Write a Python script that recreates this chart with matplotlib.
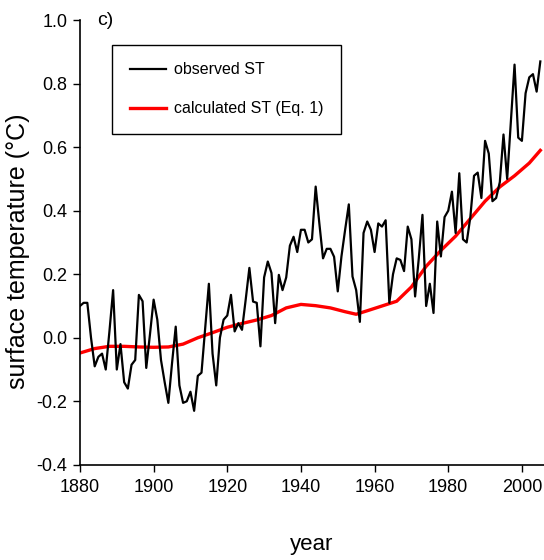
import matplotlib
matplotlib.use("Agg")
import matplotlib.pyplot as plt

# observed surface temperature, one value per year from 1880
obs_start = 1880
observed = [
    0.10, 0.11, 0.11, 0.00, -0.09, -0.06, -0.05, -0.10, 0.02, 0.15,   # 1880s
    -0.10, -0.02, -0.14, -0.16, -0.085, -0.07, 0.135, 0.115, -0.095, 0.01,  # 1890s
    0.12, 0.057, -0.07, -0.14, -0.205, -0.08, 0.035, -0.15, -0.205, -0.20,  # 1900s
    -0.17, -0.23, -0.12, -0.11, 0.03, 0.17, -0.05, -0.15, 0.00, 0.057,  # 1910s
    0.07, 0.135, 0.02, 0.046, 0.025, 0.12, 0.22, 0.114, 0.11, -0.027,  # 1920s
    0.19, 0.24, 0.204, 0.046, 0.198, 0.15, 0.19, 0.29, 0.318, 0.27,  # 1930s
    0.34, 0.34, 0.30, 0.31, 0.476, 0.36, 0.25, 0.28, 0.28, 0.255,  # 1940s
    0.146, 0.256, 0.34, 0.42, 0.193, 0.15, 0.05, 0.33, 0.366, 0.34,  # 1950s
    0.27, 0.36, 0.35, 0.37, 0.11, 0.20, 0.25, 0.245, 0.21, 0.35,  # 1960s
    0.31, 0.13, 0.25, 0.387, 0.10, 0.17, 0.078, 0.366, 0.256, 0.38,  # 1970s
    0.40, 0.46, 0.33, 0.518, 0.31, 0.30, 0.38, 0.51, 0.52, 0.44,  # 1980s
    0.62, 0.58, 0.43, 0.44, 0.49, 0.64, 0.50, 0.68, 0.86, 0.63,  # 1990s
    0.62, 0.77, 0.82, 0.83, 0.775, 0.87,  # 2000s
]
obs_years = list(range(obs_start, obs_start + len(observed)))

# calculated surface temperature (Eq. 1)
calc_years = [1880, 1884, 1888, 1892, 1896, 1900, 1904, 1908, 1912, 1916,
              1920, 1924, 1928, 1932, 1936, 1940, 1944, 1948, 1952, 1955,
              1958, 1962, 1966, 1970, 1974, 1978, 1982, 1986, 1990, 1994,
              1998, 2002, 2005]
calculated = [-0.048, -0.034, -0.027, -0.027, -0.029, -0.030, -0.029, -0.020, 0.000, 0.016,
              0.033, 0.045, 0.056, 0.070, 0.094, 0.105, 0.101, 0.094, 0.082, 0.074,
              0.085, 0.100, 0.115, 0.160, 0.225, 0.275, 0.320, 0.375, 0.430, 0.475,
              0.510, 0.550, 0.590]

x_ticks = [1880, 1900, 1920, 1940, 1960, 1980, 2000]
y_ticks = [-0.4, -0.2, 0.0, 0.2, 0.4, 0.6, 0.8, 1.0]

plt.rcParams["font.family"] = ["Liberation Sans", "DejaVu Sans"]

fig = plt.figure(figsize=(5.44, 5.6), dpi=100)
ax = fig.add_axes([0.147, 0.170, 0.853, 0.794])

ax.plot(obs_years, observed, color="black", lw=1.6, label="observed ST", zorder=3)
ax.plot(calc_years, calculated, color="red", lw=2.4, label="calculated ST (Eq. 1)", zorder=2)

ax.set_xlim(1880, 2006)
ax.set_ylim(-0.4, 1.0)
ax.set_xticks(x_ticks)
ax.set_yticks(y_ticks)
ax.set_yticklabels([f"{v:.1f}" for v in y_ticks])
ax.tick_params(direction="out", length=5, width=1, pad=4, labelsize=13)
ax.tick_params(axis="x", pad=5)

ax.spines["top"].set_visible(False)
ax.spines["right"].set_visible(False)
ax.spines["left"].set_linewidth(1.2)
ax.spines["bottom"].set_linewidth(1.2)

ax.set_xlabel("year", fontsize=16)
ax.xaxis.set_label_coords(0.5, -0.155)
ax.set_ylabel("surface temperature (\u00b0C)", fontsize=18)
ax.yaxis.set_label_coords(-0.108, 0.48)

fig.text(0.178, 0.964, "c)", fontsize=14, va="center")

leg = ax.legend(loc="upper left", bbox_to_anchor=(0.206, 0.92), bbox_transform=fig.transFigure,
                frameon=True, fancybox=False, edgecolor="black", framealpha=1,
                prop={"size": 11.5}, handlelength=2.3, handletextpad=0.5,
                borderpad=1.1, labelspacing=1.5, borderaxespad=0)
leg.get_frame().set_linewidth(1.0)

fig.savefig("out.png", dpi=100)
